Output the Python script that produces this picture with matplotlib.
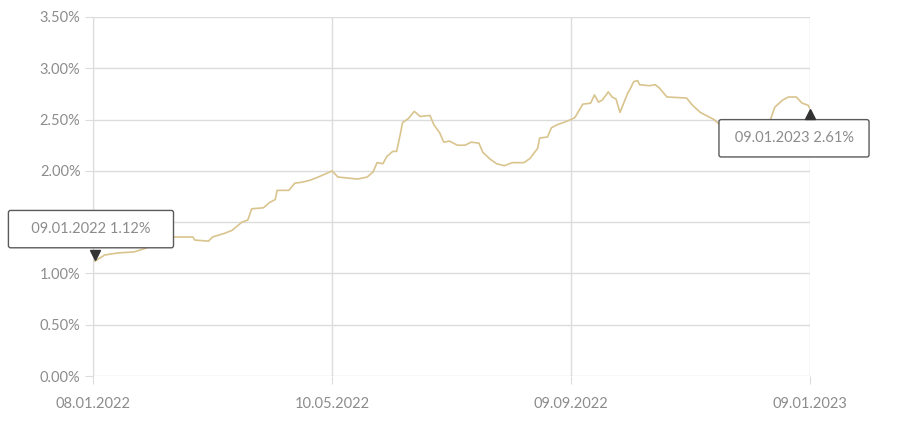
import matplotlib
matplotlib.use('Agg')
import matplotlib.pyplot as plt
import matplotlib.dates as mdates
from matplotlib.ticker import FuncFormatter
import pandas as pd

# days after 08.01.2022 and the rate in percent
start = pd.Timestamp('2022-01-08')
days = [1, 6, 13, 21, 26, 34, 41, 51, 52, 59, 61, 67, 71, 76, 79, 81, 87, 90, 93, 94,
        100, 103, 107, 111, 115, 121, 122, 125, 130, 135, 140, 143, 145, 148, 150, 153,
        155, 157, 158, 161, 164, 167, 172, 174, 177, 179, 182, 186, 190, 193, 197, 199,
        203, 206, 210, 214, 220, 223, 227, 228, 232, 234, 237, 240, 244, 246, 250, 254,
        256, 258, 260, 263, 265, 267, 269, 273, 274, 276, 278, 279, 284, 287, 289, 293,
        303, 306, 310, 313, 317, 320, 328, 335, 342, 346, 348, 352, 355, 359, 362, 365, 366]
rates = [1.12, 1.18, 1.20, 1.21, 1.24, 1.30, 1.355, 1.355, 1.325, 1.315, 1.355, 1.39, 1.42,
         1.50, 1.52, 1.63, 1.64, 1.69, 1.72, 1.81, 1.81, 1.88, 1.89, 1.91, 1.94, 1.99, 2.00,
         1.94, 1.93, 1.92, 1.94, 1.99, 2.08, 2.07, 2.14, 2.19, 2.19, 2.37, 2.47, 2.51, 2.58,
         2.53, 2.54, 2.45, 2.37, 2.28, 2.29, 2.25, 2.25, 2.28, 2.27, 2.18, 2.11, 2.07, 2.05,
         2.08, 2.08, 2.12, 2.22, 2.32, 2.33, 2.42, 2.45, 2.47, 2.50, 2.52, 2.65, 2.66, 2.74,
         2.67, 2.69, 2.77, 2.72, 2.70, 2.57, 2.76, 2.79, 2.87, 2.88, 2.84, 2.83, 2.84, 2.81,
         2.72, 2.71, 2.64, 2.57, 2.54, 2.50, 2.45, 2.38, 2.33, 2.38, 2.51, 2.62, 2.69, 2.72,
         2.72, 2.66, 2.64, 2.61]
tick_dates = ['2022-01-08', '2022-05-10', '2022-09-09', '2023-01-09']
y_ticks = [0, 0.5, 1.0, 1.5, 2.0, 2.5, 3.0, 3.5]

dates = start + pd.to_timedelta(days, unit='D')

plt.rcParams['font.family'] = ['Lato', 'DejaVu Sans']
grid_col = '#dcdcdc'
text_col = '#8c8c8c'
line_col = '#d9c48e'

fig = plt.figure(figsize=(9, 4.25), dpi=100)
ax = fig.add_axes([93 / 900, 1 - 376 / 425, 717 / 900, 359 / 425])

ax.plot(dates, rates, color=line_col, lw=1.2, zorder=3)

ax.set_xlim(start, pd.Timestamp(tick_dates[-1]))
ax.set_ylim(0, 3.5)
ax.set_xticks([mdates.date2num(pd.Timestamp(d)) for d in tick_dates])
ax.xaxis.set_major_formatter(mdates.DateFormatter('%d.%m.%Y'))
ax.set_yticks(y_ticks)
ax.yaxis.set_major_formatter(FuncFormatter(lambda v, p: f'{v:.2f}%'))

ax.grid(True, color=grid_col, lw=1)
ax.set_axisbelow(True)
for s in ['top', 'right', 'bottom']:
    ax.spines[s].set_visible(False)
ax.spines['left'].set_color(grid_col)
ax.tick_params(axis='both', colors=grid_col, labelcolor=text_col, labelsize=10.5, length=6)
ax.tick_params(axis='x', pad=9)
ax.tick_params(axis='y', pad=3)

# first and last value labels (spaces widen the box)
box = dict(boxstyle='round,pad=0.8,rounding_size=0.15', fc='white', ec='#5a5a5a', lw=1)
first_label = '   ' + dates[0].strftime('%d.%m.%Y') + f' {rates[0]:.2f}%' + '   '
last_label = ' ' + dates[-1].strftime('%d.%m.%Y') + f' {rates[-1]:.2f}%' + ' '
ax.annotate(first_label, (dates[0], rates[0]), xytext=(-4, 32), textcoords='offset pixels',
            ha='center', va='center', color=text_col, fontsize=10.5, bbox=box,
            annotation_clip=False, zorder=5)
ax.annotate(last_label, (dates[-1], rates[-1]), xytext=(-16, -30), textcoords='offset pixels',
            ha='center', va='center', color=text_col, fontsize=10.5, bbox=box,
            annotation_clip=False, zorder=5)
ax.plot([dates[0]], [rates[0] + 0.06], marker='v', color='#333333', ms=7, zorder=6, clip_on=False)
ax.plot([dates[-1]], [rates[-1] - 0.06], marker='^', color='#333333', ms=7, zorder=6, clip_on=False)

fig.savefig('out.png', dpi=100)
